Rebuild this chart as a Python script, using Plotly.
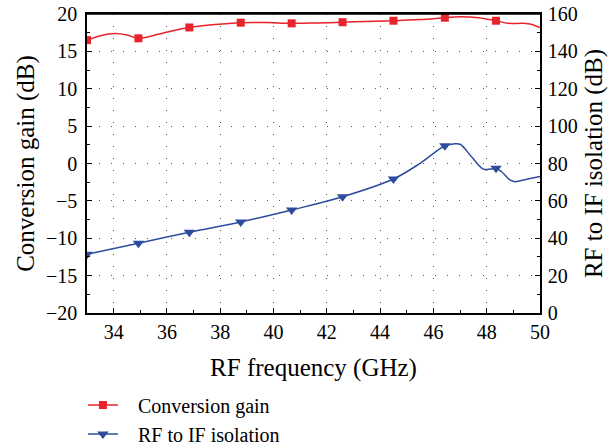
import plotly.graph_objects as go

# ---------------- data ----------------
# Conversion gain (dB), left axis
gain_curve_x = [33.0, 33.5, 34.05, 34.5, 34.93, 35.9, 36.84, 37.8, 38.77, 39.7, 40.68, 41.6,
                42.59, 43.5, 44.5, 45.5, 46.43, 47.0, 47.7, 48.35, 48.8, 49.37, 49.7, 50.0]
gain_curve_y = [16.5, 17.1, 17.4, 17.2, 16.75, 17.5, 18.2, 18.6, 18.84, 18.85, 18.75, 18.8,
                18.9, 19.0, 19.1, 19.25, 19.5, 19.64, 19.5, 19.1, 18.75, 18.75, 18.6, 18.17]
gain_marker_x = [33.0, 34.93, 36.84, 38.77, 40.68, 42.59, 44.5, 46.43, 48.35]
gain_marker_y = [16.5, 16.75, 18.2, 18.84, 18.75, 18.9, 19.1, 19.5, 19.1]

# RF to IF isolation (dB), right axis
iso_curve_x = [33.0, 34.93, 36.84, 38.77, 40.68, 42.59, 44.5, 45.5, 46.43, 46.75, 47.0, 47.43,
               47.87, 48.14, 48.35, 48.56, 48.87, 49.06, 49.5, 50.0]
iso_curve_y = [31.4, 37.3, 43.2, 48.7, 55.1, 62.2, 71.7, 80.1, 89.5, 90.5, 90.3, 83.6,
               77.0, 77.0, 77.4, 75.6, 71.2, 70.3, 71.6, 73.0]
iso_marker_x = [33.0, 34.93, 36.84, 38.77, 40.68, 42.59, 44.5, 46.43, 48.35]
iso_marker_y = [31.4, 37.3, 43.2, 48.7, 55.1, 62.2, 71.7, 89.5, 77.4]

x_ticks = [34, 36, 38, 40, 42, 44, 46, 48, 50]
left_ticks = [-20, -15, -10, -5, 0, 5, 10, 15, 20]
right_ticks = [0, 20, 40, 60, 80, 100, 120, 140, 160]

RED = "#e8232b"
BLUE = "#2e4c9e"
FONT = "'Liberation Serif', 'DejaVu Serif', serif"
PAD = "\u00a0\u00a0\u00a0"

fig = go.Figure()

# curves
fig.add_trace(go.Scatter(x=gain_curve_x, y=gain_curve_y, mode="lines",
                         line=dict(color=RED, width=1.5, shape="spline"),
                         showlegend=False, hoverinfo="skip"))
fig.add_trace(go.Scatter(x=gain_marker_x, y=gain_marker_y, mode="markers",
                         marker=dict(symbol="square", size=8, color=RED),
                         showlegend=False))
fig.add_trace(go.Scatter(x=iso_curve_x, y=iso_curve_y, mode="lines", yaxis="y2",
                         line=dict(color=BLUE, width=1.5, shape="spline"),
                         showlegend=False, hoverinfo="skip"))
fig.add_trace(go.Scatter(x=iso_marker_x, y=iso_marker_y, mode="markers", yaxis="y2",
                         marker=dict(symbol="triangle-down", size=10, color=BLUE),
                         showlegend=False))

# legend entries
fig.add_trace(go.Scatter(x=[None], y=[None], mode="lines+markers", name=PAD + "Conversion gain",
                         line=dict(color=RED, width=1.5),
                         marker=dict(symbol="square", size=8, color=RED),
                         legendgroup="g1"))
fig.add_trace(go.Scatter(x=[None], y=[None], mode="lines+markers", name=PAD + "RF to IF isolation",
                         line=dict(color=BLUE, width=1.5),
                         marker=dict(symbol="triangle-down", size=10, color=BLUE),
                         legendgroup="g2"))

grid = dict(showgrid=True, gridcolor="#555555", gridwidth=1)

fig.update_layout(
    width=615, height=447,
    margin=dict(l=87, r=75, t=14, b=134, autoexpand=False),
    plot_bgcolor="white", paper_bgcolor="white",
    font=dict(family=FONT, size=21, color="black"),
    xaxis=dict(range=[33, 50], tickvals=x_ticks, ticks="inside", ticklen=5,
               tickcolor="black", showline=True, linecolor="black", linewidth=1.5,
               mirror=True, zeroline=False, griddash="1px,11px", automargin=False,
               tickfont=dict(size=20), ticklabeloverflow="allow",
               minor=dict(dtick=1, tick0=33, ticks="inside", ticklen=3, tickcolor="black",
                          showgrid=False),
               title=dict(text="RF frequency (GHz)", standoff=17), **grid),
    yaxis=dict(range=[-20, 20], tickvals=left_ticks, ticks="inside", ticklen=5,
               tickcolor="black", showline=True, linecolor="black", linewidth=1.5,
               zeroline=False, griddash="1px,11px", automargin=False,
               tickfont=dict(size=20), ticklabelstandoff=4, ticklabeloverflow="allow",
               minor=dict(dtick=2.5, tick0=-20, ticks="inside", ticklen=3, tickcolor="black",
                          showgrid=False),
               title=dict(text="Conversion gain (dB)", standoff=4), **grid),
    yaxis2=dict(range=[0, 160], tickvals=right_ticks, ticks="inside", ticklen=5,
                tickcolor="black", showline=True, linecolor="black", linewidth=1.5,
                overlaying="y", side="right", showgrid=False, zeroline=False,
                automargin=False, tickfont=dict(size=20), ticklabelstandoff=2,
                ticklabeloverflow="allow",
                minor=dict(dtick=10, tick0=0, ticks="inside", ticklen=3, tickcolor="black"),
                title=dict(text="RF to IF isolation (dB)", standoff=8)),
    legend=dict(x=-0.009, xanchor="left", y=-0.2425, yanchor="top", xref="paper",
                font=dict(size=20), tracegroupgap=0, itemwidth=30,
                bgcolor="rgba(0,0,0,0)"),
    shapes=[dict(type="line", xref="paper", yref="paper", x0=0, x1=1, y0=1, y1=1,
                 line=dict(color="black", width=1.5), layer="above")],
)

fig.write_html("out.html",
               config={"displayModeBar": False},
               post_script="document.body.style.margin='0';document.body.style.overflow='hidden';")
